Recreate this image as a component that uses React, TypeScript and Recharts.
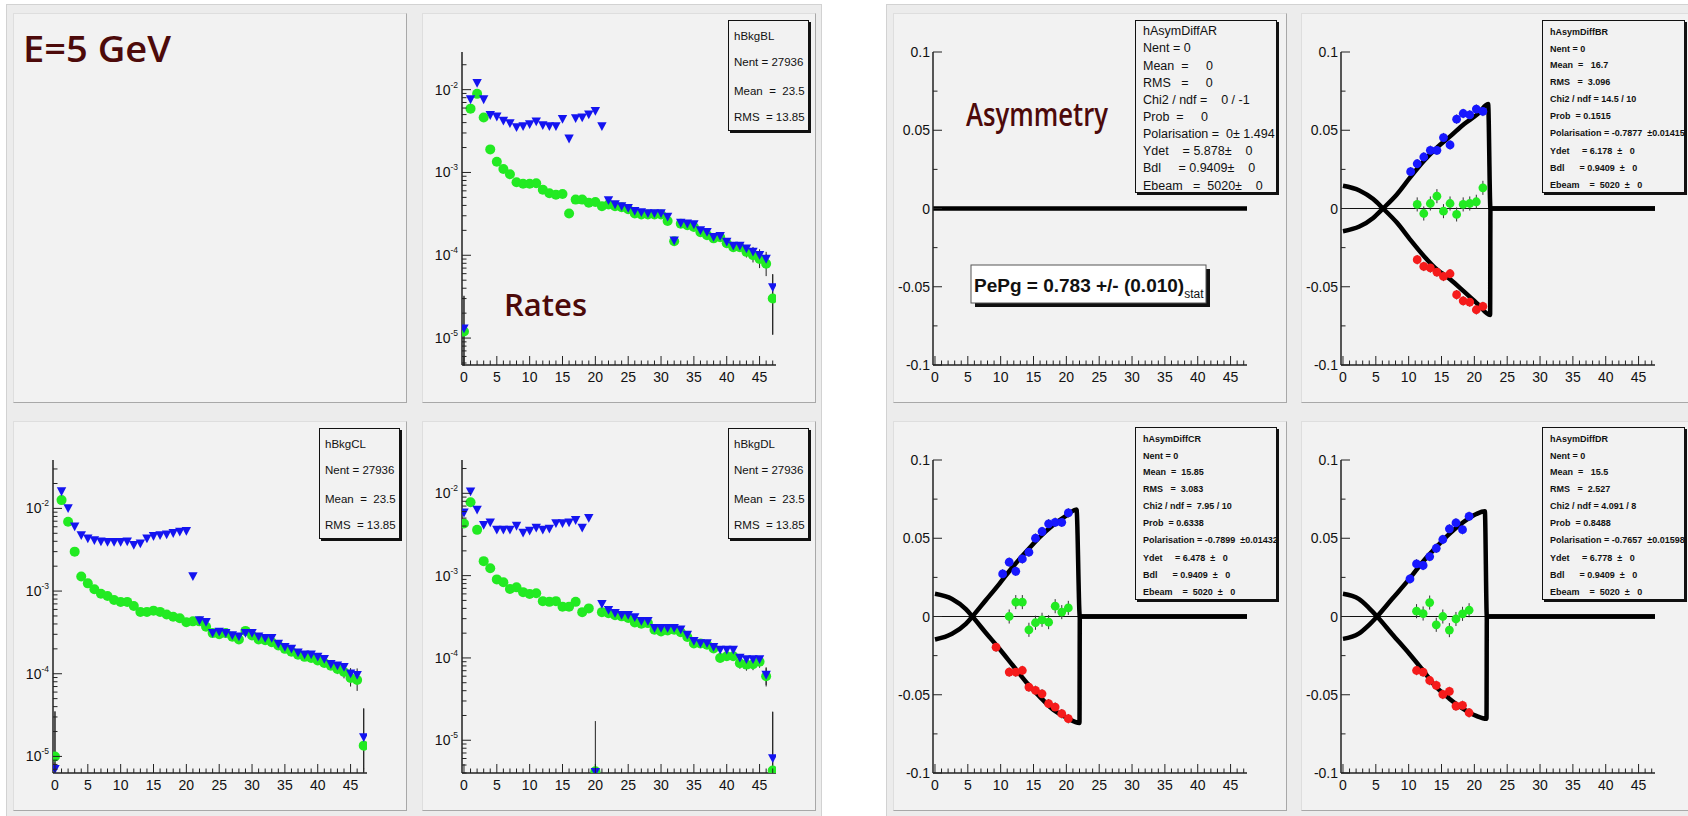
import React from "react";
import {
  ComposedChart,
  Scatter,
  Line,
  XAxis,
  YAxis,
  ErrorBar,
  ReferenceLine,
} from "recharts";

// ---------- shared axis values ----------
const bins = Array.from({ length: 48 }, (_, i) => i);
const xLabels = [0, 5, 10, 15, 20, 25, 30, 35, 40, 45];
const xRange: [number, number] = [-0.3, 47.5];
const asymTicks = [-0.1, -0.075, -0.05, -0.025, 0, 0.025, 0.05, 0.075, 0.1];
const asymLabels = [-0.1, -0.05, 0, 0.05, 0.1];

// ---------- rates: hBkgBL ----------
const blGreen = [
  1.2e-5, 5.9e-3, 8.9e-3, 4.6e-3, 1.9e-3, 1.35e-3, 1.1e-3, 9.5e-4, 7.6e-4, 7.3e-4,
  7.3e-4, 7.4e-4, 6.2e-4, 5.6e-4, 5.4e-4, 5.5e-4, 3.2e-4, 4.7e-4, 4.7e-4, 4.3e-4,
  4.4e-4, 3.9e-4, 4.1e-4, 3.9e-4, 3.8e-4, 3.6e-4, 3.2e-4, 3.1e-4, 3.1e-4, 3.1e-4,
  3.1e-4, 2.6e-4, 1.48e-4, 2.4e-4, 2.3e-4, 2.2e-4, 1.9e-4, 1.75e-4, 1.6e-4, 1.65e-4,
  1.4e-4, 1.25e-4, 1.25e-4, 1.1e-4, 1.0e-4, 9.0e-5, 7.9e-5, 3.0e-5,
];
const blBlue = [
  1.3e-5, 7.6e-3, 1.2e-2, 7.6e-3, 4.9e-3, 4.7e-3, 4.2e-3, 3.9e-3, 3.5e-3, 3.6e-3,
  3.8e-3, 4.1e-3, 3.7e-3, 3.6e-3, 3.6e-3, 4.4e-3, 2.55e-3, 4.5e-3, 4.6e-3, 5.0e-3,
  5.5e-3, 3.6e-3, 4.6e-4, 4.1e-4, 3.9e-4, 3.7e-4, 3.4e-4, 3.3e-4, 3.2e-4, 3.2e-4,
  3.2e-4, 2.9e-4, 1.5e-4, 2.45e-4, 2.4e-4, 2.35e-4, 2.0e-4, 1.9e-4, 1.65e-4, 1.7e-4,
  1.45e-4, 1.3e-4, 1.3e-4, 1.2e-4, 1.1e-4, 1.0e-4, 9.0e-5, 4.1e-5,
];
const blGreenErr: Record<number, [number, number]> = {
  0: [7.4e-6, 2.05e-5], 40: [1.4e-5, 1.4e-5], 41: [1.4e-5, 1.4e-5], 42: [1.5e-5, 1.5e-5],
  43: [1.6e-5, 1.6e-5], 44: [1.8e-5, 1.8e-5], 45: [2e-5, 2e-5], 46: [2.3e-5, 2.3e-5], 47: [1.9e-5, 2.9e-5],
};
const blBlueErr: Record<number, [number, number]> = {
  0: [8.3e-6, 1.9e-5], 44: [1.6e-5, 1.6e-5], 45: [1.8e-5, 1.8e-5], 46: [2e-5, 2e-5], 47: [3e-5, 1.8e-5],
};

// ---------- rates: hBkgCL ----------
const clGreen = [
  1.0e-5, 1.26e-2, 6.9e-3, 3.0e-3, 1.5e-3, 1.24e-3, 1.05e-3, 9.3e-4, 8.7e-4, 7.8e-4,
  7.4e-4, 7.4e-4, 6.6e-4, 5.6e-4, 5.6e-4, 5.8e-4, 5.6e-4, 5.2e-4, 4.9e-4, 4.7e-4,
  4.2e-4, 4.3e-4, 4.3e-4, 3.7e-4, 3.1e-4, 3.0e-4, 3.1e-4, 2.8e-4, 2.6e-4, 3.3e-4,
  2.9e-4, 2.6e-4, 2.55e-4, 2.4e-4, 2.2e-4, 2.0e-4, 1.85e-4, 1.7e-4, 1.6e-4, 1.55e-4,
  1.45e-4, 1.35e-4, 1.25e-4, 1.14e-4, 1.05e-4, 8.9e-5, 8.4e-5, 1.35e-5,
];
const clBlue = [
  7e-6, 1.6e-2, 1.0e-2, 6.0e-3, 4.7e-3, 4.3e-3, 4.1e-3, 3.95e-3, 3.9e-3, 3.9e-3,
  3.9e-3, 3.95e-3, 3.6e-3, 3.75e-3, 4.3e-3, 4.6e-3, 4.7e-3, 4.8e-3, 5.0e-3, 5.2e-3,
  5.3e-3, 1.5e-3, 4.4e-4, 4.2e-4, 3.1e-4, 3.2e-4, 3.1e-4, 2.9e-4, 2.8e-4, 3.1e-4,
  3.1e-4, 2.8e-4, 2.7e-4, 2.7e-4, 2.3e-4, 2.1e-4, 2.0e-4, 1.8e-4, 1.7e-4, 1.7e-4,
  1.6e-4, 1.5e-4, 1.3e-4, 1.25e-4, 1.2e-4, 1.0e-4, 9.6e-5, 1.7e-5,
];
const clGreenErr: Record<number, [number, number]> = {
  0: [3.6e-6, 2.5e-5], 41: [1.3e-5, 1.3e-5], 42: [1.4e-5, 1.4e-5], 43: [1.5e-5, 1.5e-5],
  44: [1.7e-5, 1.7e-5], 45: [1.9e-5, 1.9e-5], 46: [2.2e-5, 2.2e-5], 47: [7e-6, 2.45e-5],
};
const clBlueErr: Record<number, [number, number]> = {
  0: [6e-7, 2.8e-5], 45: [1.7e-5, 1.7e-5], 46: [2e-5, 2e-5], 47: [1.0e-5, 2.1e-5],
};

// ---------- rates: hBkgDL ----------
const dlGreen = [
  4.3e-3, 7.8e-3, 3.6e-3, 1.5e-3, 1.23e-3, 9.0e-4, 8.3e-4, 6.9e-4, 7.2e-4, 6.3e-4,
  6.0e-4, 6.1e-4, 4.9e-4, 4.8e-4, 4.9e-4, 4.2e-4, 4.2e-4, 4.8e-4, 3.6e-4, 4.0e-4,
  4.2e-6, 3.6e-4, 3.5e-4, 3.3e-4, 3.2e-4, 3.05e-4, 2.7e-4, 2.6e-4, 2.65e-4, 2.2e-4,
  2.1e-4, 2.15e-4, 2.2e-4, 2.05e-4, 1.8e-4, 1.5e-4, 1.5e-4, 1.45e-4, 1.3e-4, 1.0e-4,
  1.05e-4, 1.05e-4, 8.6e-5, 8.3e-5, 8.4e-5, 9.0e-5, 6.0e-5, 4.3e-6,
];
const dlBlue = [
  5.8e-3, 1.05e-2, 6.3e-3, 4.1e-3, 4.4e-3, 3.6e-3, 3.6e-3, 3.6e-3, 4.0e-3, 3.3e-3,
  3.5e-3, 3.8e-3, 3.6e-3, 3.7e-3, 4.3e-3, 4.3e-3, 4.4e-3, 4.7e-3, 3.8e-3, 5.0e-3,
  4.1e-6, 4.5e-4, 3.8e-4, 3.5e-4, 3.3e-4, 3.3e-4, 3.1e-4, 2.8e-4, 2.8e-4, 2.3e-4,
  2.3e-4, 2.3e-4, 2.3e-4, 2.2e-4, 1.9e-4, 1.6e-4, 1.5e-4, 1.5e-4, 1.35e-4, 1.25e-4,
  1.25e-4, 1.25e-4, 1.0e-4, 9.6e-5, 9.6e-5, 9.6e-5, 6.2e-5, 6.0e-6,
];
const dlGreenErr: Record<number, [number, number]> = {
  40: [1.2e-5, 1.2e-5], 41: [1.2e-5, 1.2e-5], 42: [1.2e-5, 1.2e-5], 43: [1.3e-5, 1.3e-5],
  44: [1.3e-5, 1.3e-5], 45: [1.4e-5, 1.4e-5], 46: [1.5e-5, 1.5e-5], 47: [3e-7, 1.8e-5],
};
const dlBlueErr: Record<number, [number, number]> = {
  20: [1e-7, 1.3e-5], 46: [1.5e-5, 1.5e-5], 47: [1.9e-6, 1.6e-5],
};

// ---------- asymmetry: hAsymDiffAR ----------
const arFitX = [-0.3, 47.5];
const arFitY = [0, 0];

// ---------- asymmetry: hAsymDiffBR ----------
const brBlueX = [10.3, 11.3, 12.3, 13.3, 14.3, 15.3, 16.3, 17.3, 18.3, 19.3, 20.3, 21.3];
const brBlueY = [0.0235, 0.0286, 0.0329, 0.0372, 0.0372, 0.0453, 0.0406, 0.0571, 0.0607, 0.0598, 0.0635, 0.062];
const brPairX = [11.3, 12.3, 13.3, 14.3, 15.3, 16.3, 17.3, 18.3, 19.3, 20.3, 21.3];
const brGreenY = [0.0026, -0.0032, 0.0032, 0.0079, -0.0017, 0.0032, -0.0038, 0.0026, 0.0032, 0.0043, 0.0132];
const brRedY = [-0.0327, -0.037, -0.038, -0.0406, -0.0434, -0.0417, -0.0551, -0.059, -0.0598, -0.0647, -0.0626];
const brFitUpX = [0, 2.5, 4.6, 6.1, 8.2, 10.2, 12.3, 14.3, 16.4, 18.4, 20.5, 22.1, 22.45, 47.5];
const brFitUpY = [-0.0145, -0.0115, -0.006, 0, 0.009, 0.0197, 0.0303, 0.0389, 0.0464, 0.0539, 0.0603, 0.0667, 0, 0];
const brFitDnX = [0, 2.5, 4.6, 6.1, 8.2, 10.2, 12.3, 14.3, 16.4, 18.4, 20.5, 22.4, 22.45, 47.5];
const brFitDnY = [0.0145, 0.0115, 0.006, 0, -0.009, -0.0197, -0.0303, -0.039, -0.0455, -0.053, -0.061, -0.068, 0, 0];

// ---------- asymmetry: hAsymDiffCR ----------
const crBlueX = [10.3, 11.3, 12.3, 13.3, 14.3, 15.3, 16.3, 17.3, 18.3, 19.3, 20.3];
const crBlueY = [0.0272, 0.0347, 0.0289, 0.0368, 0.0411, 0.05, 0.0543, 0.0592, 0.0602, 0.0602, 0.0662];
const crGreenX = [11.3, 12.3, 13.3, 14.3, 15.3, 16.3, 17.3, 18.3, 19.3, 20.3];
const crGreenY = [0, 0.0092, 0.0092, -0.0085, -0.004, -0.0021, -0.0036, 0.0066, 0.0028, 0.0055];
const crRedX = [9.3, 11.3, 12.3, 13.3, 14.3, 15.3, 16.3, 17.3, 18.3, 19.3, 20.3];
const crRedY = [-0.0196, -0.0355, -0.0355, -0.0345, -0.0451, -0.0472, -0.0494, -0.0557, -0.0579, -0.0621, -0.0653];
const crFitUpX = [0, 2.6, 4.7, 5.7, 7.7, 9.8, 11.8, 13.9, 15.9, 18, 20, 21.55, 22.05, 47.5];
const crFitUpY = [-0.0147, -0.011, -0.0047, 0, 0.0102, 0.0209, 0.0315, 0.0415, 0.0506, 0.0585, 0.0645, 0.0683, 0, 0];
const crFitDnX = [0, 2.6, 4.7, 5.7, 7.7, 9.8, 11.8, 13.9, 15.9, 18, 20, 22.0, 22.05, 47.5];
const crFitDnY = [0.0145, 0.0112, 0.0047, 0, -0.0102, -0.0206, -0.031, -0.042, -0.051, -0.0595, -0.0645, -0.068, 0, 0];

// ---------- asymmetry: hAsymDiffDR ----------
const drBlueX = [10.2, 11.2, 12.2, 13.2, 14.2, 15.2, 16.2, 17.2, 18.2, 19.2];
const drBlueY = [0.024, 0.0336, 0.0326, 0.0383, 0.0436, 0.0492, 0.056, 0.0598, 0.0555, 0.064];
const drPairX = [11.2, 12.2, 13.2, 14.2, 15.2, 16.2, 17.2, 18.2, 19.2];
const drGreenY = [0.0034, 0.0019, 0.0089, -0.0053, 0, -0.0087, -0.0016, 0.0017, 0.004];
const drRedY = [-0.0345, -0.0355, -0.0409, -0.044, -0.0498, -0.0479, -0.0572, -0.0568, -0.0615];
const drFitUpX = [0, 2.4, 3.9, 5.2, 7.5, 10.1, 12.1, 14.2, 16.2, 18.3, 20.3, 21.6, 21.9, 47.5];
const drFitUpY = [-0.0143, -0.011, -0.0057, 0, 0.0113, 0.024, 0.0347, 0.0443, 0.0528, 0.0602, 0.0655, 0.0672, 0, 0];
const drFitDnX = [0, 2.4, 3.9, 5.2, 7.5, 10.1, 12.1, 14.2, 16.2, 18.3, 20.3, 21.85, 21.9, 47.5];
const drFitDnY = [0.0145, 0.0112, 0.0057, 0, -0.0113, -0.0238, -0.034, -0.0451, -0.0525, -0.059, -0.0635, -0.0653, 0, 0];

// ---------- layout ----------
const PW = 394;
const PH = 390;
const MARGIN = { top: 39, right: 40, bottom: 0, left: 0 };
const FONT = "'Liberation Sans', Arial, Helvetica, sans-serif";
const TITLE_FONT = "'Open Sans', 'Noto Sans', sans-serif";
const MAROON = "#4d0a0a";
const GREEN = "#22ea22";
const BLUE = "#1414f0";
const RED = "#f51b1b";

const logTicks = ([lo, hi]: [number, number]) => {
  const out: number[] = [];
  for (let e = -7; e <= -1; e++) {
    for (let m = 1; m <= 9; m++) {
      const v = m * Math.pow(10, e);
      if (v >= lo && v <= hi) out.push(v);
    }
  }
  return out;
};

const XTick = (props: any) => {
  const { x, y, payload } = props;
  const v = payload.value as number;
  const major = xLabels.includes(v);
  return (
    <g>
      <line x1={x} x2={x} y1={y} y2={y - (major ? 9 : 4.5)} stroke="#222" strokeWidth={1} />
      {major ? (
        <text x={x} y={y + 17} textAnchor="middle" fontSize={14} fontFamily={FONT} fill="#111">
          {v}
        </text>
      ) : null}
    </g>
  );
};

const LogTick = (props: any) => {
  const { x, y, payload } = props;
  const lv = Math.log10(payload.value);
  const e = Math.round(lv);
  const major = Math.abs(lv - e) < 1e-6;
  return (
    <g>
      <line x1={x} x2={x + (major ? 9 : 4.5)} y1={y} y2={y} stroke="#222" strokeWidth={1} />
      {major ? (
        <text x={x - 4} y={y + 5} textAnchor="end" fontSize={14} fontFamily={FONT} fill="#111">
          10
          <tspan dy={-7} fontSize={8.5}>
            {e}
          </tspan>
        </text>
      ) : null}
    </g>
  );
};

const AsymTick = (props: any) => {
  const { x, y, payload } = props;
  const v = payload.value as number;
  const major = asymLabels.includes(v);
  return (
    <g>
      <line x1={x} x2={x + (major ? 9 : 4.5)} y1={y} y2={y} stroke="#222" strokeWidth={1} />
      {major ? (
        <text x={x - 3} y={y + 5} textAnchor="end" fontSize={14} fontFamily={FONT} fill="#111">
          {String(v)}
        </text>
      ) : null}
    </g>
  );
};

const dot = (color: string, r: number) => (p: any) =>
  p.cx == null ? <g /> : <circle cx={p.cx} cy={p.cy} r={r} fill={color} />;

const tri = (p: any) =>
  p.cx == null ? (
    <g />
  ) : (
    <polygon
      points={`${p.cx - 4.7},${p.cy - 4.2} ${p.cx + 4.7},${p.cy - 4.2} ${p.cx},${p.cy + 4.6}`}
      fill={BLUE}
    />
  );

const frameAxes = (
  yScale: any,
  yDomain: [number, number],
  yTicks: number[],
  yTick: any
) => [
  <XAxis
    key="xb"
    xAxisId={0}
    type="number"
    dataKey="x"
    domain={xRange}
    ticks={bins}
    interval={0}
    tick={XTick}
    tickLine={false}
    tickSize={0}
    tickMargin={0}
    height={38}
    allowDataOverflow
    axisLine={{ stroke: "#222", strokeWidth: 1.5 }}
  />,
  <XAxis
    key="xt"
    xAxisId="t"
    orientation="top"
    type="number"
    domain={xRange}
    tick={false}
    tickLine={false}
    height={0}
    allowDataOverflow
    axisLine={{ stroke: "#333", strokeWidth: 1.5 }}
  />,
  <YAxis
    key="yl"
    yAxisId={0}
    type="number"
    dataKey="y"
    scale={yScale}
    domain={yDomain}
    ticks={yTicks}
    interval={0}
    tick={yTick}
    tickLine={false}
    tickSize={0}
    tickMargin={0}
    width={40}
    allowDataOverflow
    axisLine={{ stroke: "#222", strokeWidth: 1.5 }}
  />,
  <YAxis
    key="yr"
    yAxisId="r"
    orientation="right"
    type="number"
    domain={[0, 1]}
    tick={false}
    tickLine={false}
    width={0}
    allowDataOverflow
    axisLine={{ stroke: "#333", strokeWidth: 1.5 }}
  />,
];

const RateChart = ({ green, blue, greenErr, blueErr, yDomain }: any) => {
  const g = bins.map((x, i) => ({ x, y: green[i], err: greenErr[i] || [0, 0] }));
  const b = bins.map((x, i) => ({ x, y: blue[i], err: blueErr[i] || [0, 0] }));
  return (
    <ComposedChart width={PW} height={PH} margin={MARGIN}>
      {frameAxes("log", yDomain, logTicks(yDomain), LogTick)}
      <Scatter data={g} dataKey="y" shape={dot(GREEN, 5)} isAnimationActive={false}>
        <ErrorBar dataKey="err" direction="y" width={0} stroke="#222" strokeWidth={1} isAnimationActive={false} />
      </Scatter>
      <Scatter data={b} dataKey="y" shape={tri} isAnimationActive={false}>
        <ErrorBar dataKey="err" direction="y" width={0} stroke="#222" strokeWidth={1} isAnimationActive={false} />
      </Scatter>
    </ComposedChart>
  );
};

const pts = (xs: number[], ys: number[], err = 0) =>
  xs.map((x, i) => ({ x, y: ys[i], err }));

const AsymChart = ({ blue, green, red, fits }: any) => (
  <ComposedChart width={PW} height={PH} margin={MARGIN}>
    {frameAxes("linear", [-0.1, 0.1], asymTicks, AsymTick)}
    <ReferenceLine y={0} stroke="#111" strokeWidth={1.2} />
    {blue ? (
      <Scatter data={blue} dataKey="y" shape={dot("#1717ff", 4.4)} isAnimationActive={false}>
        <ErrorBar dataKey="err" direction="y" width={0} stroke="#333" strokeWidth={1} isAnimationActive={false} />
      </Scatter>
    ) : null}
    {red ? (
      <Scatter data={red} dataKey="y" shape={dot(RED, 4.4)} isAnimationActive={false}>
        <ErrorBar dataKey="err" direction="y" width={0} stroke="#333" strokeWidth={1} isAnimationActive={false} />
      </Scatter>
    ) : null}
    {green ? (
      <Scatter data={green} dataKey="y" shape={dot(GREEN, 4.4)} isAnimationActive={false}>
        <ErrorBar dataKey="err" direction="y" width={0} stroke="#333" strokeWidth={1} isAnimationActive={false} />
      </Scatter>
    ) : null}
    {fits.map((f: any, i: number) => (
      <Line
        key={i}
        data={f}
        dataKey="y"
        type="monotone"
        stroke="#000"
        strokeWidth={4.5}
        dot={false}
        activeDot={false}
        isAnimationActive={false}
      />
    ))}
  </ComposedChart>
);

const Panel = ({ left, top, children }: any) => (
  <div
    style={{
      position: "absolute",
      left,
      top,
      width: PW,
      height: PH,
      boxSizing: "border-box",
      background: "#f2f2f2",
      borderTop: "1px solid #dedede",
      borderLeft: "1px solid #dedede",
      borderRight: "1px solid #a8a8a8",
      borderBottom: "1px solid #a8a8a8",
    }}
  >
    <div style={{ position: "absolute", left: -1, top: -1 }}>{children}</div>
  </div>
);

const StatBox = ({ x, y, w, h, lines, centers, size, bold, pad }: any) => (
  <div
    style={{
      position: "absolute",
      left: x,
      top: y,
      width: w,
      height: h,
      boxSizing: "border-box",
      border: "1px solid #111",
      boxShadow: "2px 2px 0 #111",
      background: "#f2f2f2",
      overflow: "hidden",
    }}
  >
    {lines.map((t: string, i: number) => (
      <div
        key={i}
        style={{
          position: "absolute",
          left: pad,
          top: centers[i] - size / 2,
          fontSize: size,
          lineHeight: `${size}px`,
          whiteSpace: "pre",
          fontFamily: FONT,
          fontWeight: bold ? 700 : 400,
          color: "#111",
        }}
      >
        {t}
      </div>
    ))}
  </div>
);

const rateCenters = [16, 42, 71, 97];
const asymCentersA = [10, 27.5, 45.5, 62, 79, 96.5, 113.5, 130.5, 147.5, 165];
const asymCentersB = [11, 28, 44, 61, 78, 95, 112, 130, 147, 164];

const rateLines = (name: string) => [name, "Nent = 27936", "Mean  =  23.5", "RMS  = 13.85"];

const Overlay = ({ children }: any) => (
  <svg
    width={PW}
    height={PH}
    style={{ position: "absolute", left: -1, top: -1, overflow: "visible", pointerEvents: "none" }}
  >
    {children}
  </svg>
);

const App = () => {
  return (
    <div
      style={{
        position: "relative",
        width: 1688,
        height: 816,
        overflow: "hidden",
        background: "#ffffff",
      }}
    >
      <style>{"body{margin:0}"}</style>
      {/* canvas groups */}
      <div
        style={{
          position: "absolute",
          left: 6,
          top: 4,
          width: 816,
          height: 830,
          background: "#ececec",
          border: "1px solid #d2d2d2",
          boxSizing: "border-box",
        }}
      />
      <div
        style={{
          position: "absolute",
          left: 886,
          top: 4,
          width: 820,
          height: 830,
          background: "#ececec",
          border: "1px solid #d2d2d2",
          boxSizing: "border-box",
        }}
      />

      {/* E=5 GeV */}
      <Panel left={13} top={13}>
        <Overlay>
          <text
            x={11}
            y={50}
            fontSize={36}
            fontWeight={600}
            fontFamily={TITLE_FONT}
            fill={MAROON}
            textLength={148}
            lengthAdjust="spacingAndGlyphs"
          >
            E=5 GeV
          </text>
        </Overlay>
      </Panel>

      <Panel left={422} top={13}>
        <RateChart green={blGreen} blue={blBlue} greenErr={blGreenErr} blueErr={blBlueErr} yDomain={[4.73e-6, 0.0285]} />
        <Overlay>
          <text x={83} y={304} fontSize={31} fontWeight={600} fontFamily={TITLE_FONT} fill={MAROON}>
            Rates
          </text>
        </Overlay>
        <StatBox x={306} y={7} w={81} h={111} lines={rateLines("hBkgBL")} centers={rateCenters} size={11.5} pad={5} />
      </Panel>

      <Panel left={13} top={421}>
        <RateChart green={clGreen} blue={clBlue} greenErr={clGreenErr} blueErr={clBlueErr} yDomain={[6.3e-6, 0.0385]} />
        <StatBox x={306} y={7} w={81} h={111} lines={rateLines("hBkgCL")} centers={rateCenters} size={11.5} pad={5} />
      </Panel>

      <Panel left={422} top={421}>
        <RateChart green={dlGreen} blue={dlBlue} greenErr={dlGreenErr} blueErr={dlBlueErr} yDomain={[4.0e-6, 0.0254]} />
        <StatBox x={306} y={7} w={81} h={111} lines={rateLines("hBkgDL")} centers={rateCenters} size={11.5} pad={5} />
      </Panel>

      <Panel left={893} top={13}>
        <AsymChart fits={[pts(arFitX, arFitY)]} />
        <Overlay>
          <text
            x={74}
            y={114}
            fontSize={32}
            fontWeight={600}
            fontFamily={TITLE_FONT}
            fill={MAROON}
            textLength={142}
            lengthAdjust="spacingAndGlyphs"
          >
            Asymmetry
          </text>
          <rect x={83} y={257} width={235} height={38} fill="#111" />
          <rect x={79} y={253} width={235} height={38} fill="#ffffff" stroke="#555" strokeWidth={1} />
          <text x={82} y={280} fontSize={19} fontWeight={700} fontFamily={FONT} fill="#111">
            PePg = 0.783 +/- (0.010)
            <tspan dy={6} fontSize={12} fontWeight={400}>
              stat
            </tspan>
          </text>
        </Overlay>
        <StatBox
          x={242}
          y={7}
          w={142}
          h={173}
          size={12.5}
          pad={7}
          centers={asymCentersA}
          lines={[
            "hAsymDiffAR",
            "Nent = 0",
            "Mean  =     0",
            "RMS   =     0",
            "Chi2 / ndf =    0 / -1",
            "Prob  =     0",
            "Polarisation =  0\u00b1 1.494",
            "Ydet    = 5.878\u00b1    0",
            "Bdl     = 0.9409\u00b1    0",
            "Ebeam   =  5020\u00b1    0",
          ]}
        />
      </Panel>

      <Panel left={1301} top={13}>
        <AsymChart
          blue={pts(brBlueX, brBlueY, 0.003)}
          green={pts(brPairX, brGreenY, 0.0045)}
          red={pts(brPairX, brRedY, 0.003)}
          fits={[pts(brFitUpX, brFitUpY), pts(brFitDnX, brFitDnY)]}
        />
        <StatBox
          x={241}
          y={7}
          w={143}
          h={173}
          size={9}
          bold
          pad={7}
          centers={asymCentersB}
          lines={[
            "hAsymDiffBR",
            "Nent = 0",
            "Mean  =   16.7",
            "RMS   =  3.096",
            "Chi2 / ndf = 14.5 / 10",
            "Prob  = 0.1515",
            "Polarisation = -0.7877  \u00b10.01415",
            "Ydet     = 6.178  \u00b1   0",
            "Bdl      = 0.9409  \u00b1   0",
            "Ebeam    =  5020  \u00b1   0",
          ]}
        />
      </Panel>

      <Panel left={893} top={421}>
        <AsymChart
          blue={pts(crBlueX, crBlueY, 0.003)}
          green={pts(crGreenX, crGreenY, 0.0045)}
          red={pts(crRedX, crRedY, 0.003)}
          fits={[pts(crFitUpX, crFitUpY), pts(crFitDnX, crFitDnY)]}
        />
        <StatBox
          x={242}
          y={6}
          w={142}
          h={173}
          size={9}
          bold
          pad={7}
          centers={asymCentersB}
          lines={[
            "hAsymDiffCR",
            "Nent = 0",
            "Mean  =  15.85",
            "RMS   =  3.083",
            "Chi2 / ndf =  7.95 / 10",
            "Prob  = 0.6338",
            "Polarisation = -0.7899  \u00b10.01432",
            "Ydet     = 6.478  \u00b1   0",
            "Bdl      = 0.9409  \u00b1   0",
            "Ebeam    =  5020  \u00b1   0",
          ]}
        />
      </Panel>

      <Panel left={1301} top={421}>
        <AsymChart
          blue={pts(drBlueX, drBlueY, 0.003)}
          green={pts(drPairX, drGreenY, 0.0045)}
          red={pts(drPairX, drRedY, 0.003)}
          fits={[pts(drFitUpX, drFitUpY), pts(drFitDnX, drFitDnY)]}
        />
        <StatBox
          x={241}
          y={6}
          w={143}
          h={173}
          size={9}
          bold
          pad={7}
          centers={asymCentersB}
          lines={[
            "hAsymDiffDR",
            "Nent = 0",
            "Mean  =   15.5",
            "RMS   =  2.527",
            "Chi2 / ndf = 4.091 / 8",
            "Prob  = 0.8488",
            "Polarisation = -0.7657  \u00b10.01598",
            "Ydet     = 6.778  \u00b1   0",
            "Bdl      = 0.9409  \u00b1   0",
            "Ebeam    =  5020  \u00b1   0",
          ]}
        />
      </Panel>
    </div>
  );
};

export default App;
